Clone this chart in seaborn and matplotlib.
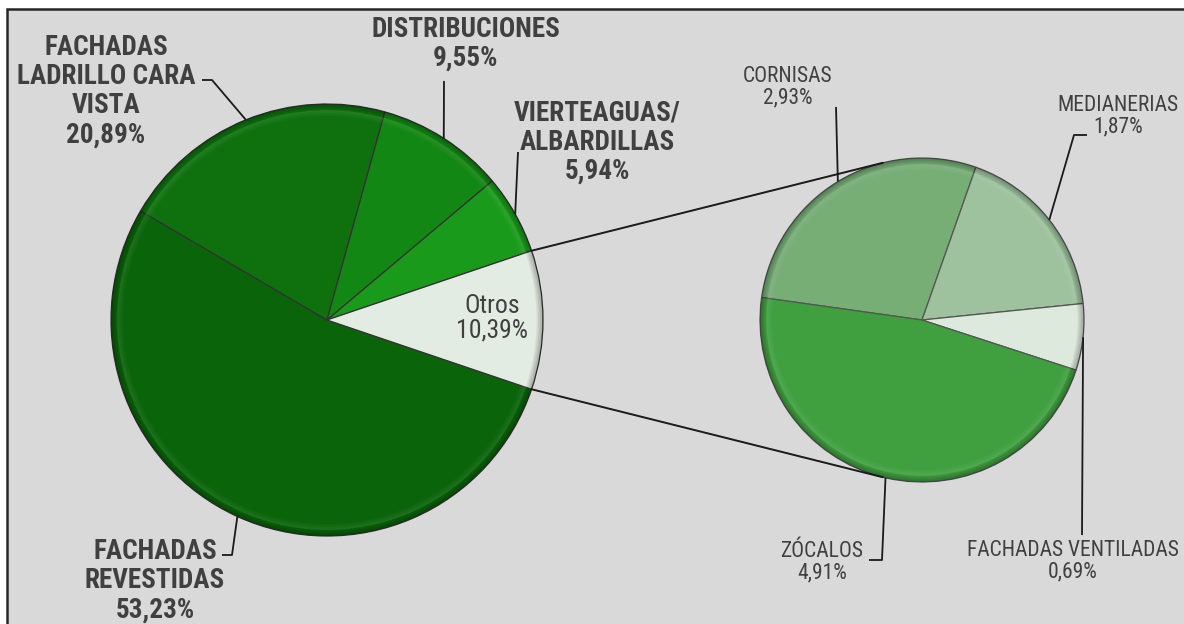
import numpy as np
import matplotlib
matplotlib.use("Agg")
import matplotlib.pyplot as plt
from matplotlib.patches import Rectangle, Wedge
import seaborn as sns

# main pie (Excel "pie of pie")
MAIN_LABELS = ["FACHADAS\nREVESTIDAS", "FACHADAS\nLADRILLO CARA\nVISTA", "DISTRIBUCIONES",
               "VIERTEAGUAS/\nALBARDILLAS", "Otros"]
MAIN_VALUES = [53.23, 20.89, 9.55, 5.94, 10.39]
MAIN_COLORS = ["#0a640a", "#0e710e", "#138713", "#1a9a1a", "#e2ece2"]

# secondary pie (breakdown of "Otros")
SUB_LABELS = ["CORNISAS", "MEDIANERIAS", "FACHADAS VENTILADAS", "ZÓCALOS"]
SUB_VALUES = [2.93, 1.87, 0.69, 4.91]
SUB_COLORS = ["#76ae76", "#9dc29d", "#dde9dd", "#40a040"]

W, H = 1184, 624
TXT = "#404040"
FONT = ["Roboto Condensed", "Roboto", "DejaVu Sans"]


def py(y):
    # pixel row (top origin) -> data y
    return H - y


def pct(v):
    return f"{v:.2f}".replace(".", ",") + "%"


def mid_point(wedge, center, r):
    a = np.deg2rad((wedge.theta1 + wedge.theta2) / 2)
    return center[0] + r * np.cos(a), center[1] + r * np.sin(a)


def leader(ax, start, pts):
    xs = [start[0]] + [p[0] for p in pts]
    ys = [start[1]] + [py(p[1]) for p in pts]
    ax.plot(xs, ys, color="#1a1a1a", lw=1.3, zorder=4, solid_capstyle="butt")


def bevel(ax, center, r):
    # rough imitation of Excel's bevel: darker outer rim, soft light band inside
    for k in range(5):
        ax.add_patch(Wedge(center, r, 0, 360, width=1.2 + 1.3 * k,
                           facecolor="black", alpha=0.06, lw=0, zorder=2))
    for k in range(4):
        ax.add_patch(Wedge(center, r - 6, 0, 360, width=1.5 + 1.5 * k,
                           facecolor="white", alpha=0.025, lw=0, zorder=2))


def main():
    sns.set_style("white")
    plt.rcParams["font.family"] = FONT

    fig = plt.figure(figsize=(W / 100, H / 100), dpi=100)
    fig.patch.set_facecolor("white")
    ax = fig.add_axes([0, 0, 1, 1])
    ax.axis("off")

    ax.add_patch(Rectangle((7, -20), W + 20, py(9) + 20, facecolor="#d9d9d9",
                           edgecolor="#262626", lw=1.8, zorder=0))

    c1, r1 = (327, py(320)), 216
    c2, r2 = (922, py(320)), 162
    start1 = -MAIN_VALUES[-1] / sum(MAIN_VALUES) * 360 / 2

    w1, _ = ax.pie(MAIN_VALUES, colors=MAIN_COLORS, startangle=start1, counterclock=False,
                   center=c1, radius=r1,
                   wedgeprops=dict(edgecolor="#333333", linewidth=0.9))
    w2, _ = ax.pie(SUB_VALUES, colors=SUB_COLORS, startangle=172, counterclock=False,
                   center=c2, radius=r2,
                   wedgeprops=dict(edgecolor="#555555", linewidth=0.9))
    bevel(ax, c1, r1)
    bevel(ax, c2, r2)

    # connector lines from "Otros" to the second pie
    for a1, a2 in [(-start1, 104), (start1, -104)]:
        p1 = (c1[0] + r1 * np.cos(np.deg2rad(a1)), c1[1] + r1 * np.sin(np.deg2rad(a1)))
        p2 = (c2[0] + r2 * np.cos(np.deg2rad(a2)), c2[1] + r2 * np.sin(np.deg2rad(a2)))
        ax.plot([p1[0], p2[0]], [p1[1], p2[1]], color="#1a1a1a", lw=1.4, zorder=4)

    # main labels: text centre, leader bends (pixel coords)
    main_layout = [
        ((155, 581), [(232, 555), (222, 555)]),
        ((106, 91), [(212, 80), (202, 80)]),
        ((466, 44), [(444, 81)]),
        ((597, 142), [(518, 152)]),
    ]
    for i, (pos, bends) in enumerate(main_layout):
        ax.text(pos[0], py(pos[1]), MAIN_LABELS[i] + "\n" + pct(MAIN_VALUES[i]),
                ha="center", va="center", fontsize=19.5, fontweight="bold",
                color=TXT, linespacing=1.1, zorder=5)
        leader(ax, mid_point(w1[i], c1, r1), bends)

    ax.text(492, py(318), MAIN_LABELS[-1] + "\n" + pct(MAIN_VALUES[-1]),
            ha="center", va="center", fontsize=18.5, color=TXT, linespacing=1.05, zorder=5)

    sub_layout = [
        ((788, 87), [(836, 107)]),
        ((1118, 116), [(1074, 135), (1087, 135)]),
        ((1073, 561), [(1082, 535)]),
        ((822, 562), [(882, 560), (869, 560)]),
    ]
    for i, (pos, bends) in enumerate(sub_layout):
        ax.text(pos[0], py(pos[1]), SUB_LABELS[i] + "\n" + pct(SUB_VALUES[i]),
                ha="center", va="center", fontsize=15.5, color=TXT,
                linespacing=1.0, zorder=5)
        leader(ax, mid_point(w2[i], c2, r2), bends)

    ax.set_xlim(0, W)
    ax.set_ylim(0, H)
    ax.set_aspect("auto")
    fig.savefig("out.png", dpi=100)
    plt.close(fig)


if __name__ == "__main__":
    main()
